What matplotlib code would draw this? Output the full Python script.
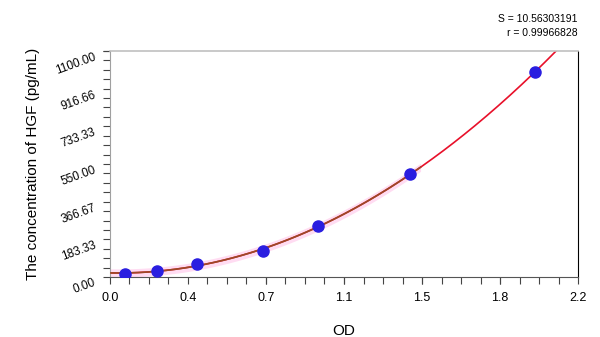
import numpy as np
import matplotlib.pyplot as plt
from matplotlib.ticker import FixedLocator, AutoMinorLocator

plt.rcParams['font.family'] = ['Liberation Sans', 'DejaVu Sans']

# standard curve data
od = [0.07, 0.22, 0.41, 0.72, 0.98, 1.41, 2.00]
conc = [15.6, 31.25, 62.5, 125, 250, 500, 1000]
x_ticks = [0.0, 0.3667, 0.7333, 1.1, 1.4667, 1.8333, 2.2]
x_labels = ['0.0', '0.4', '0.7', '1.1', '1.5', '1.8', '2.2']
y_ticks = [0.0, 183.33, 366.67, 550.0, 733.33, 916.66, 1100.0]
y_labels = ['0.00', '183.33', '366.67', '550.00', '733.33', '916.66', '1100.00']
stat_s = '10.56303191'
stat_r = '0.99966828'

fig = plt.figure(figsize=(6, 3.37), dpi=100)
ax = fig.add_axes([0.1833, 0.178, 0.78, 0.6707])

# fitted curve
coef = np.polyfit(od, conc, 3)
xs = np.linspace(0, 2.2, 400)
ys = np.polyval(coef, xs)
xin = np.linspace(0, od[-2] + 0.05, 200)
yin = np.polyval(coef, xin)

ax.fill_between(xin, yin - 20, yin + 20, color='#ffdcf2', lw=0, zorder=1)
ax.plot(xs, ys, color='#e8102a', lw=1.2, zorder=2)
ax.plot(xin, yin, color='#9a4a28', lw=1.2, zorder=3)
ax.plot(od, conc, 'o', color='#2a1ee0', markersize=8, zorder=4)

ax.set_xlim(0, 2.2)
ax.set_ylim(0, 1100)
ax.xaxis.set_major_locator(FixedLocator(x_ticks))
ax.set_xticklabels(x_labels, fontsize=9)
ax.yaxis.set_major_locator(FixedLocator(y_ticks))
ax.set_yticklabels(y_labels, fontsize=8.5, rotation=20, rotation_mode='anchor',
                   ha='right', va='top')
ax.xaxis.set_minor_locator(AutoMinorLocator(4))
ax.yaxis.set_minor_locator(AutoMinorLocator(4))
ax.tick_params(which='both', direction='out', length=5, width=0.8, color='#444444')
ax.tick_params(axis='x', pad=6)
ax.tick_params(axis='y', pad=7)

ax.spines['top'].set_color('#c0c0c0')
ax.spines['top'].set_linewidth(1.2)
ax.spines['left'].set_color('#a0a0a0')
ax.spines['right'].set_color('black')
ax.spines['bottom'].set_color('#555555')

ax.set_xlabel('OD', fontsize=11, labelpad=14)
ax.set_ylabel('The concentration of HGF (pg/mL)', fontsize=11)
ax.yaxis.set_label_coords(-0.149, 0.5)

fig.text(0.963, 0.945, 'S = ' + stat_s, ha='right', va='center', fontsize=7.5)
fig.text(0.963, 0.903, 'r = ' + stat_r, ha='right', va='center', fontsize=7.5)

fig.savefig('out.png', dpi=100)
